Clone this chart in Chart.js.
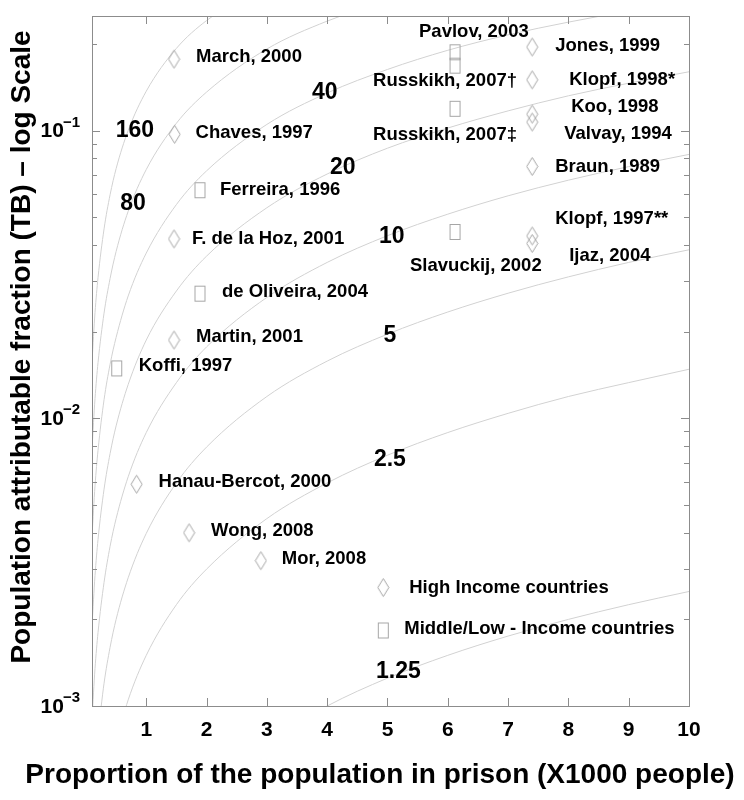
<!DOCTYPE html>
<html>
<head>
<meta charset="utf-8">
<script src="https://cdn.jsdelivr.net/npm/chart.js@4/dist/chart.umd.min.js"></script>
<style>
  body { margin: 0; background: #fff; }
  #wrap { width: 744px; height: 800px; position: relative; }
</style>
</head>
<body>
<div id="wrap"><canvas id="paf_chart"></canvas></div>
<script>
//---------------DATOS-----------
const xTicks = [1, 2, 3, 4, 5, 6, 7, 8, 9, 10];
const yMajorTicks = [0.001, 0.01, 0.1];
const yMajorExp = ['−3', '−2', '−1'];
const yMinorTicks = [0.002, 0.003, 0.004, 0.005, 0.006, 0.007, 0.008, 0.009,
                     0.02, 0.03, 0.04, 0.05, 0.06, 0.07, 0.08, 0.09, 0.2];

// curvas de riesgo relativo
const curveX = [0.1, 0.15, 0.2, 0.3, 0.4, 0.5, 0.7, 1, 1.5, 2, 3, 4, 5, 6, 7, 8, 9, 10];
const curveNames = ['160', '80', '40', '20', '10', '5', '2.5', '1.25'];
const rr160 = [0.0157, 0.0233, 0.0308, 0.0455, 0.0598, 0.0737, 0.100, 0.137, 0.193, 0.241, 0.323,
               null, null, null, null, null, null, null];
const rr80 = [0.00784, 0.0117, 0.0156, 0.0232, 0.0306, 0.0380, 0.0524, 0.0732, 0.106, 0.136, 0.192,
              0.240, 0.283, null, null, null, null, null];
const rr40 = [0.00389, 0.00582, 0.00774, 0.0116, 0.0154, 0.0191, 0.0266, 0.0375, 0.0553, 0.0724,
              0.105, 0.135, 0.163, 0.190, 0.215, 0.238, 0.260, 0.281];
const rr20 = [0.0019, 0.00284, 0.00379, 0.00567, 0.00754, 0.00941, 0.0131, 0.0187, 0.0277, 0.0366,
              0.0539, 0.0706, 0.0868, 0.102, 0.117, 0.132, 0.146, 0.160];
const rr10 = [0.0009, 0.00135, 0.0018, 0.00269, 0.00359, 0.00448, 0.00626, 0.00892, 0.0133, 0.0177,
              0.0263, 0.0348, 0.0431, 0.0512, 0.0593, 0.0672, 0.0749, 0.0826];
const rr5 = [null, null, 0.0008, 0.0012, 0.0016, 0.002, 0.00279, 0.00398, 0.00596, 0.00794,
             0.0119, 0.0158, 0.0196, 0.0234, 0.0272, 0.0310, 0.0348, 0.0385];
const rr2_5 = [null, null, null, null, null, 0.00075, 0.00105, 0.0015, 0.00225, 0.00299,
               0.00448, 0.00596, 0.00744, 0.00892, 0.0104, 0.0119, 0.0133, 0.0148];
const rr1_25 = [null, null, null, null, null, null, null, null, null, null,
                0.00075, 0.001, 0.00125, 0.0015, 0.00175, 0.002, 0.00225, 0.0025];
const curveValues = [rr160, rr80, rr40, rr20, rr10, rr5, rr2_5, rr1_25];

// donde va cada etiqueta de curva (en unidades del grafico)
const curveLabelX = [0.81, 0.78, 3.96, 4.26, 5.07, 5.04, 5.04, 5.18];
const curveLabelY = [0.100, 0.0557, 0.135, 0.0745, 0.0427, 0.0193, 0.00719, 0.00132];

// paises de ingreso alto (rombos)
const highNames = ['March, 2000', 'Chaves, 1997', 'F. de la Hoz, 2001', 'Martin, 2001',
                   'Hanau-Bercot, 2000', 'Wong, 2008', 'Mor, 2008', 'Jones, 1999',
                   'Klopf, 1998*', 'Koo, 1998', 'Valvay, 1994', 'Braun, 1989',
                   'Klopf, 1997**', 'Ijaz, 2004'];
const highX = [1.46, 1.47, 1.46, 1.46, 0.84, 1.71, 2.90, 7.40, 7.40, 7.40, 7.40, 7.40, 7.40, 7.40];
const highY = [0.177, 0.097, 0.042, 0.0187, 0.0059, 0.0040, 0.0032, 0.195, 0.150, 0.114, 0.107,
               0.075, 0.043, 0.0405];

// paises de ingreso medio/bajo (cuadrados)
const lowNames = ['Ferreira, 1996', 'de Oliveira, 2004', 'Koffi, 1997', 'Pavlov, 2003',
                  'Russkikh, 2007†', 'Russkikh, 2007‡', 'Slavuckij, 2002'];
const lowX = [1.89, 1.89, 0.51, 6.12, 6.12, 6.12, 6.12];
const lowY = [0.062, 0.0271, 0.0149, 0.187, 0.168, 0.119, 0.0444];

// desplazamiento del texto respecto al marcador (px)
const highLabelOffsets = [[22, -2], [21, -1], [18, 0], [22, -3], [22, -2], [22, -2], [21, -2],
                          [23, -1], [37, 0], [39, -7], [32, 12], [23, 0], [23, -17], [37, 12]];
const lowLabelOffsets = [[20, 0], [22, -2], [22, -3], [-36, -20], [-82, 15], [-82, 26], [-45, 34]];

const legendNames = ['High Income countries', 'Middle/Low - Income countries'];
const xTitle = 'Proportion of the population in prison (X1000 people)';
const yTitle = 'Population attributable fraction (TB) – log Scale';

//---------------ESTILO-----------
const FONT = "'Liberation Sans', Arial, Helvetica, sans-serif";
const MARK = '#a6a6a6';

function makeDiamond() {
  const c = document.createElement('canvas');
  c.width = 13; c.height = 21;
  const g = c.getContext('2d');
  g.strokeStyle = MARK; g.lineWidth = 1;
  g.beginPath();
  g.moveTo(6.5, 1.5); g.lineTo(12, 10.5); g.lineTo(6.5, 19.5); g.lineTo(1, 10.5);
  g.closePath(); g.stroke();
  return c;
}
function makeSquare() {
  const c = document.createElement('canvas');
  c.width = 13; c.height = 18;
  const g = c.getContext('2d');
  g.strokeStyle = MARK; g.lineWidth = 1;
  g.strokeRect(1.5, 1.5, 10, 15);
  return c;
}
const diamondImg = makeDiamond();
const squareImg = makeSquare();

const curveSets = curveValues.map((vals, i) => ({
  label: 'RR ' + curveNames[i],
  data: curveX.map((x, j) => ({ x: x, y: vals[j] })).filter(p => p.y !== null),
  showLine: true,
  borderColor: '#d2d2d2',
  borderWidth: 1,
  pointRadius: 0,
  cubicInterpolationMode: 'monotone',
  order: 2
}));

const highSet = {
  label: 'High Income countries',
  data: highX.map((x, i) => ({ x: x, y: highY[i] })),
  pointStyle: diamondImg,
  pointRadius: 8,
  showLine: false,
  order: 1
};
const lowSet = {
  label: 'Middle/Low - Income countries',
  data: lowX.map((x, i) => ({ x: x, y: lowY[i] })),
  pointStyle: squareImg,
  pointRadius: 8,
  showLine: false,
  order: 1
};

//---------------PLUGINS-----------
const frameTicks = {
  id: 'frameTicks',
  afterDatasetsDraw(chart) {
    const { ctx, chartArea: a, scales } = chart;
    ctx.save();
    ctx.strokeStyle = '#8c8c8c';
    ctx.lineWidth = 1;
    ctx.strokeRect(a.left + 0.5, a.top + 0.5, a.right - a.left, a.bottom - a.top);
    ctx.beginPath();
    xTicks.forEach(v => {
      const px = Math.round(scales.x.getPixelForValue(v)) + 0.5;
      ctx.moveTo(px, a.bottom); ctx.lineTo(px, a.bottom - 8);
      ctx.moveTo(px, a.top); ctx.lineTo(px, a.top + 8);
    });
    const yt = (v, len) => {
      const py = Math.round(scales.y.getPixelForValue(v)) + 0.5;
      ctx.moveTo(a.left, py); ctx.lineTo(a.left + len, py);
      ctx.moveTo(a.right, py); ctx.lineTo(a.right - len, py);
    };
    yMajorTicks.forEach(v => yt(v, 8));
    yMinorTicks.forEach(v => yt(v, 5));
    ctx.stroke();
    ctx.restore();
  }
};

const textLayer = {
  id: 'textLayer',
  afterDraw(chart) {
    const { ctx, scales, chartArea: a } = chart;
    ctx.save();
    ctx.fillStyle = '#000';
    // etiquetas del eje y: 10 con exponente
    ctx.textBaseline = 'middle';
    yMajorTicks.forEach((v, i) => {
      const py = scales.y.getPixelForValue(v);
      ctx.font = 'bold 15px ' + FONT;
      ctx.textAlign = 'right';
      const ew = ctx.measureText(yMajorExp[i]).width;
      ctx.fillText(yMajorExp[i], a.left - 12, py - 8);
      ctx.font = 'bold 21px ' + FONT;
      ctx.fillText('10', a.left - 12 - ew + 1, py + 1);
    });
    // titulos de ejes
    ctx.font = 'bold 28px ' + FONT;
    ctx.textAlign = 'center';
    ctx.fillText(xTitle, 380, 775);
    ctx.save();
    ctx.translate(22, 347);
    ctx.rotate(-Math.PI / 2);
    ctx.fillText(yTitle, 0, 0);
    ctx.restore();
    // etiquetas de curvas
    ctx.font = 'bold 23px ' + FONT;
    ctx.textAlign = 'center';
    curveNames.forEach((t, i) => {
      ctx.fillText(t, scales.x.getPixelForValue(curveLabelX[i]), scales.y.getPixelForValue(curveLabelY[i]));
    });
    // etiquetas de estudios
    ctx.font = 'bold 18.5px ' + FONT;
    ctx.textAlign = 'left';
    const put = (dsIndex, names, offs) => {
      const meta = chart.getDatasetMeta(dsIndex);
      meta.data.forEach((el, i) => {
        ctx.fillText(names[i], el.x + offs[i][0], el.y + offs[i][1]);
      });
    };
    put(curveSets.length, highNames, highLabelOffsets);
    put(curveSets.length + 1, lowNames, lowLabelOffsets);
    // leyenda dentro del grafico
    const lx = scales.x.getPixelForValue(4.93);
    const ly1 = scales.y.getPixelForValue(0.00258);
    const ly2 = scales.y.getPixelForValue(0.00183);
    ctx.drawImage(diamondImg, lx - diamondImg.width / 2, ly1 - diamondImg.height / 2);
    ctx.drawImage(squareImg, lx - squareImg.width / 2, ly2 - squareImg.height / 2);
    ctx.fillText(legendNames[0], lx + 26, ly1);
    ctx.fillText(legendNames[1], lx + 21, ly2 - 2);
    ctx.restore();
  }
};

//---------------GRAFICO-----------
const ctx_paf = document.getElementById('paf_chart').getContext('2d');
const chart_paf = new Chart(ctx_paf, {
  type: 'scatter',
  data: { datasets: [...curveSets, highSet, lowSet] },
  options: {
    responsive: true,
    maintainAspectRatio: false,
    animation: false,
    layout: { padding: { left: 0, right: 55, top: 16, bottom: 0 } },
    plugins: { legend: { display: false }, tooltip: { enabled: false } },
    scales: {
      x: {
        type: 'linear',
        min: 0.1,
        max: 10,
        afterBuildTicks: s => { s.ticks = xTicks.map(v => ({ value: v })); },
        afterFit: s => { s.height = 94; },
        grid: { display: false },
        border: { display: false },
        ticks: {
          color: '#000',
          padding: 4,
          maxRotation: 0,
          font: { family: FONT, size: 21, weight: 'bold' }
        }
      },
      y: {
        type: 'logarithmic',
        min: 0.001,
        max: 0.25,
        afterBuildTicks: s => { s.ticks = yMajorTicks.map(v => ({ value: v })); },
        afterFit: s => { s.width = 92; },
        grid: { display: false },
        border: { display: false },
        ticks: { display: false }
      }
    }
  },
  plugins: [frameTicks, textLayer]
});
</script>
</body>
</html>
